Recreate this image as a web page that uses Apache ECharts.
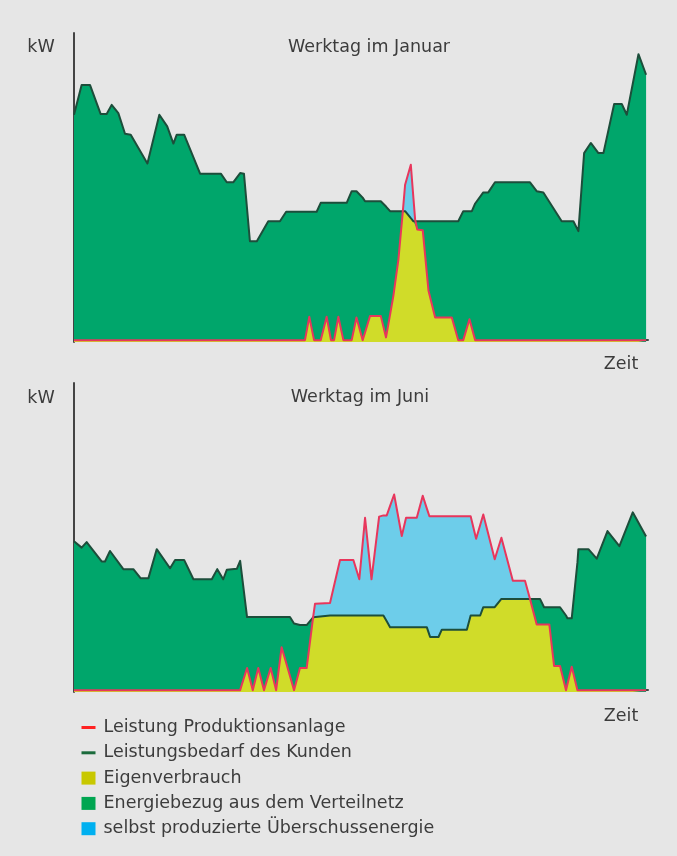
<!DOCTYPE html>
<html>
<head>
<meta charset="utf-8">
<script src="https://cdn.jsdelivr.net/npm/echarts@6/dist/echarts.min.js"></script>
<style>
    html, body { margin: 0; padding: 0; background: #e6e6e6; }
    #chart { width: 677px; height: 856px; }
</style>
</head>
<body>
<div id="chart"></div>
<script>
    // Zeit in Stunden, Leistung in % der Achsenhöhe
    var tJan = [
        0, 0.32, 0.67, 1.12, 1.37, 1.58, 1.86, 2.14, 2.38, 3.08,
        3.58, 3.91, 4.17, 4.31, 4.62, 5.29, 6.16, 6.41, 6.68, 6.97,
        7.13, 7.38, 7.67, 8.15, 8.64, 8.90, 9.69, 9.87, 10.07, 10.18,
        10.35, 10.42, 10.60, 10.78, 10.91, 11.09, 11.30, 11.44, 11.65, 11.85,
        11.93, 12.11, 12.21, 12.42, 12.87, 12.91, 13.09, 13.26, 13.40, 13.61,
        13.79, 13.89, 14.13, 14.24, 14.31, 14.40, 14.63, 14.87, 15.15, 15.85,
        16.12, 16.33, 16.59, 16.69, 16.83, 17.17, 17.38, 17.66, 19.13, 19.41,
        19.69, 20.46, 20.95, 21.16, 21.40, 21.68, 22.00, 22.21, 22.66, 22.98,
        23.19, 23.68, 24.00
    ];
    var demandJan = [
        73.4, 83.1, 83.1, 73.6, 73.6, 76.6, 73.9, 67.2, 66.9, 57.5,
        73.4, 69.6, 64.0, 66.9, 66.9, 54.2, 54.2, 51.4, 51.4, 54.4,
        54.2, 32.2, 32.2, 38.7, 38.7, 41.8, 41.8, 41.8, 41.8, 41.8,
        44.7, 44.7, 44.7, 44.7, 44.7, 44.7, 44.7, 44.7, 48.5, 48.5,
        48.5, 46.4, 45.2, 45.2, 45.2, 45.2, 43.5, 42.0, 42.0, 42.0,
        42.0, 42.0, 39.7, 38.7, 38.7, 38.7, 38.7, 38.7, 38.7, 38.7,
        38.7, 42.0, 42.0, 42.0, 44.5, 48.1, 48.1, 51.4, 51.4, 48.5,
        48.1, 38.7, 38.7, 35.5, 60.9, 64.2, 60.9, 60.9, 76.9, 76.9,
        73.4, 93.1, 86.4
    ];
    var prodJan = [
        0, 0, 0, 0, 0, 0, 0, 0, 0, 0,
        0, 0, 0, 0, 0, 0, 0, 0, 0, 0,
        0, 0, 0, 0, 0, 0, 0, 7.6, 0, 0,
        0, 0, 7.6, 0, 0, 7.6, 0, 0, 0, 7.4,
        5.1, 0, 2.5, 7.9, 7.9, 6.6, 0.9, 8.3, 14.5, 26.3,
        41.5, 50.6, 57.1, 46.2, 39.3, 36.0, 35.8, 16.2, 7.4, 7.4,
        0, 0, 6.8, 4.0, 0, 0, 0, 0, 0, 0,
        0, 0, 0, 0, 0, 0, 0, 0, 0, 0,
        0, 0, 0
    ];

    var tJun = [
        0, 0.32, 0.53, 1.16, 1.30, 1.51, 2.07, 2.49, 2.80, 3.12,
        3.47, 4.03, 4.24, 4.62, 5.01, 5.78, 6.01, 6.26, 6.41, 6.83,
        6.97, 7.04, 7.26, 7.50, 7.73, 7.97, 8.25, 8.48, 8.71, 9.06,
        9.23, 9.27, 9.48, 9.76, 10.03, 10.11, 10.74, 11.16, 11.72, 11.97,
        12.21, 12.48, 12.80, 12.98, 13.12, 13.26, 13.43, 13.75, 13.93, 14.38,
        14.63, 14.80, 14.91, 14.94, 15.29, 15.43, 16.48, 16.64, 16.69, 16.87,
        17.04, 17.17, 17.65, 17.93, 18.41, 18.92, 19.13, 19.41, 19.55, 19.72,
        19.94, 20.14, 20.39, 20.46, 20.64, 20.70, 20.88, 20.95, 21.12, 21.16,
        21.58, 21.93, 22.38, 22.88, 23.44, 24.00
    ];
    var demandJun = [
        48.5, 46.4, 48.2, 41.9, 41.9, 45.3, 39.4, 39.4, 36.4, 36.4,
        45.9, 39.7, 42.4, 42.4, 36.1, 36.1, 39.4, 36.1, 39.2, 39.5,
        42.1, 42.7, 23.8, 23.8, 23.8, 23.8, 23.8, 23.8, 23.8, 23.8,
        21.7, 21.2, 21.2, 21.2, 23.7, 24.3, 24.3, 24.3, 24.3, 24.3,
        24.3, 24.3, 24.3, 24.3, 22.4, 20.5, 20.5, 20.5, 20.5, 20.5,
        20.5, 20.5, 18.0, 17.3, 17.3, 19.7, 19.7, 24.3, 24.3, 24.3,
        24.3, 27.0, 27.0, 29.7, 29.7, 29.7, 29.7, 29.7, 29.7, 27.0,
        27.0, 27.0, 27.0, 27.0, 24.3, 23.4, 23.4, 23.4, 41.6, 45.9,
        45.9, 42.8, 51.8, 46.9, 57.9, 50.0
    ];
    var prodJun = [
        0, 0, 0, 0, 0, 0, 0, 0, 0, 0,
        0, 0, 0, 0, 0, 0, 0, 0, 0, 0,
        0, 1.8, 7.2, 0, 7.2, 0, 7.2, 0, 14.0, 4.6,
        0, 1.1, 7.2, 7.2, 23.7, 28.1, 28.4, 42.4, 42.4, 36.1,
        56.1, 36.1, 56.5, 56.9, 56.9, 60.0, 63.7, 50.2, 56.1, 56.1,
        63.3, 59.2, 56.6, 56.6, 56.6, 56.6, 56.6, 56.6, 56.6, 49.3,
        53.8, 57.2, 42.6, 49.6, 35.6, 35.6, 29.7, 21.4, 21.4, 21.4,
        21.4, 7.9, 7.9, 5.7, 0, 1.9, 7.6, 5.4, 0, 0,
        0, 0, 0, 0, 0, 0
    ];

    var chartTitles = ['Werktag im Januar', 'Werktag im Juni'];
    var legendNames = [
        'Leistung Produktionsanlage',
        'Leistungsbedarf des Kunden',
        'Eigenverbrauch',
        'Energiebezug aus dem Verteilnetz',
        'selbst produzierte Überschussenergie'
    ];

    var FONT = 'DejaVu Sans';
    var FONT_SIZE = 17.5;
    var TEXT = '#3c3c3c';
    var RED = '#e8365c';
    var DARK = '#1d4e3b';
    var GREEN = '#00a66b';
    var YELLOW = '#d0dc29';
    var BLUE = '#6dcdea';

    function pairs(t, v) {
        return t.map(function (x, i) { return [x, v[i]]; });
    }

    // Reihenfolge: Überschuss (blau), Netzbezug (grün), Eigenverbrauch (gelb), dann die Linien
    function buildSeries(t, demand, prod, idx) {
        var own = t.map(function (x, i) { return [x, Math.min(demand[i], prod[i])]; });
        var area = function (name, data, color) {
            return {
                name: name, type: 'line', xAxisIndex: idx, yAxisIndex: idx,
                data: data, symbol: 'none', silent: true,
                itemStyle: { color: color },
                lineStyle: { width: 0, opacity: 0 },
                areaStyle: { color: color, opacity: 1, origin: 'start' }
            };
        };
        var line = function (name, data, color) {
            return {
                name: name, type: 'line', xAxisIndex: idx, yAxisIndex: idx,
                data: data, symbol: 'none', silent: true,
                itemStyle: { color: color },
                lineStyle: { width: 2, color: color, join: 'round' }
            };
        };
        return [
            area(legendNames[4], pairs(t, prod), BLUE),
            area(legendNames[3], pairs(t, demand), GREEN),
            area(legendNames[2], own, YELLOW),
            line(legendNames[1], pairs(t, demand), DARK),
            line(legendNames[0], pairs(t, prod), RED)
        ];
    }

    function axisX(idx) {
        return {
            type: 'value', gridIndex: idx, min: 0, max: 24.08,
            axisLine: { show: true, lineStyle: { color: '#444', width: 2 } },
            axisTick: { show: false }, axisLabel: { show: false }, splitLine: { show: false }
        };
    }
    function axisY(idx) {
        return {
            type: 'value', gridIndex: idx, min: -0.6, max: 100,
            axisLine: { show: true, lineStyle: { color: '#444', width: 2 } },
            axisTick: { show: false }, axisLabel: { show: false }, splitLine: { show: false }
        };
    }

    // Beschriftung mittig an (x, y)
    function label(text, x, y) {
        return {
            type: 'text', x: x, y: y, silent: true,
            style: {
                text: text, fill: TEXT,
                font: FONT_SIZE + 'px "' + FONT + '"',
                align: 'center', verticalAlign: 'middle',
                textAlign: 'center', textVerticalAlign: 'middle'
            }
        };
    }

    var myChart = echarts.init(document.getElementById('chart'));
    var option = {
        backgroundColor: '#e6e6e6',
        animation: false,
        grid: [
            { left: 74, top: 33, width: 574, height: 309 },
            { left: 74, top: 383, width: 574, height: 309 }
        ],
        xAxis: [axisX(0), axisX(1)],
        yAxis: [axisY(0), axisY(1)],
        legend: {
            orient: 'vertical', left: 75, top: 713,
            itemWidth: 14, itemHeight: 13, itemGap: 6.3,
            selectedMode: false,
            textStyle: { fontFamily: FONT, fontSize: FONT_SIZE, color: TEXT, lineHeight: 19, padding: [0, 0, 0, 3] },
            data: [
                { name: legendNames[0], itemStyle: { opacity: 0 }, lineStyle: { color: '#ff2222', width: 3 } },
                { name: legendNames[1], itemStyle: { opacity: 0 }, lineStyle: { color: '#1b6b3c', width: 3 } },
                { name: legendNames[2], icon: 'rect', itemStyle: { color: '#c8c800' } },
                { name: legendNames[3], icon: 'rect', itemStyle: { color: '#00a651' } },
                { name: legendNames[4], icon: 'rect', itemStyle: { color: '#00b0f0' } }
            ]
        },
        graphic: [
            label('kW', 41, 47),
            label(chartTitles[0], 369, 47),
            label('Zeit', 621, 364),
            label('kW', 41, 398),
            label(chartTitles[1], 360, 397),
            label('Zeit', 621, 716)
        ],
        series: buildSeries(tJan, demandJan, prodJan, 0).concat(buildSeries(tJun, demandJun, prodJun, 1))
    };
    myChart.setOption(option);
    window.addEventListener('resize', function () {
        myChart.resize();
    });
</script>
</body>
</html>
